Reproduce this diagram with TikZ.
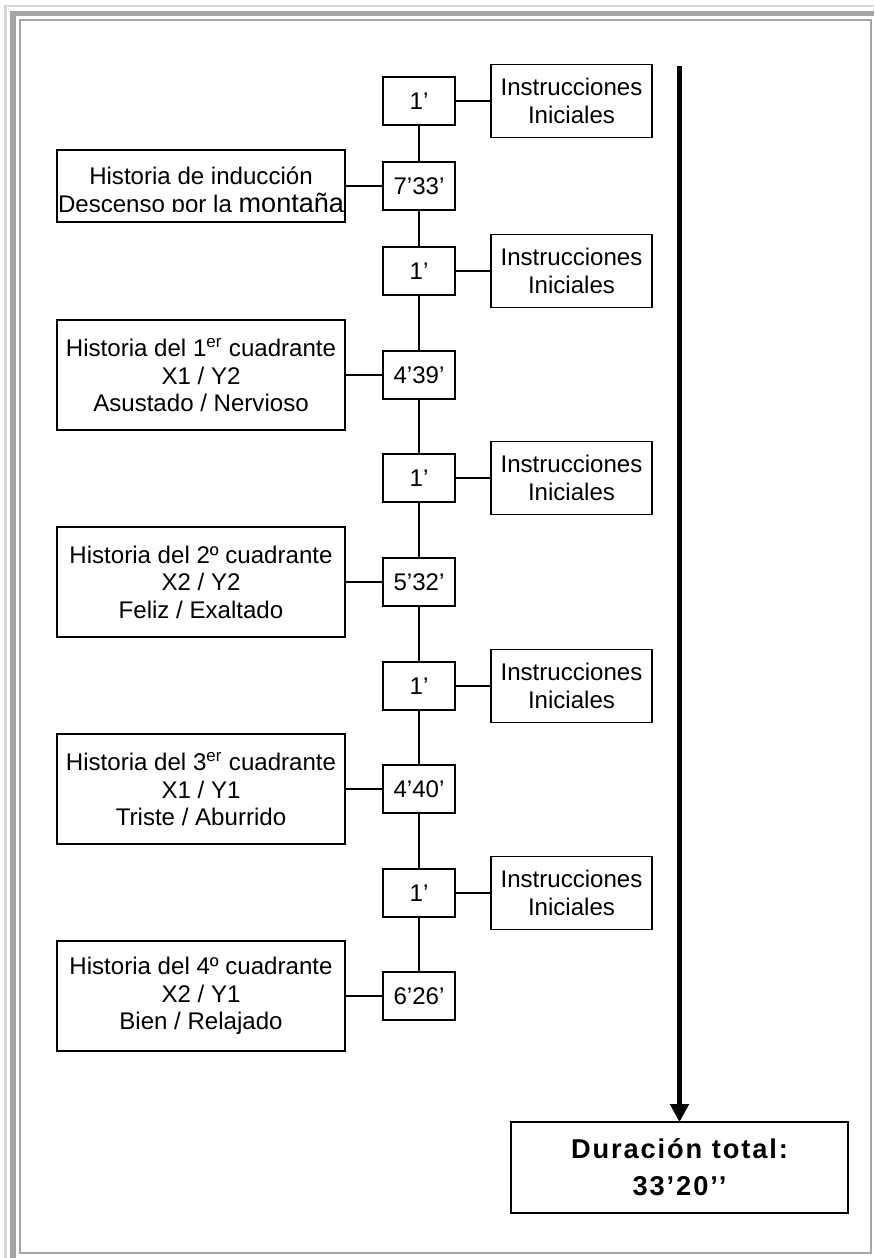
\documentclass[tikz,border=0pt]{standalone}
\usepackage{fontspec}
\setmainfont{Liberation Sans}
\usepackage{tikz}
\usetikzlibrary{arrows.meta}
\pgfdeclarelayer{nodelayer}
\pgfdeclarelayer{edgelayer}
\pgfsetlayers{edgelayer,nodelayer,main}
\definecolor{frame light}{HTML}{D6D6D6}
\definecolor{frame dark}{HTML}{A6A6A6}
\tikzstyle{time box}=[fill=white, draw=black, line width=0.85pt, shape=rectangle, inner sep=0pt, minimum width=1.44cm, minimum height=0.96cm, font=\fontsize{13.7pt}{15.6pt}\selectfont]
\tikzstyle{note box}=[fill=white, draw=black, line width=0.85pt, shape=rectangle, inner sep=0pt, minimum width=3.22cm, minimum height=1.46cm, align=center, font=\fontsize{13.7pt}{15.6pt}\selectfont]
\tikzstyle{story box}=[fill=white, draw=black, line width=0.85pt, shape=rectangle, inner sep=0pt, minimum width=5.76cm, minimum height=2.2cm, align=center, font=\fontsize{13.7pt}{15.6pt}\selectfont]
\tikzstyle{total box}=[fill=white, draw=black, line width=0.85pt, shape=rectangle, inner sep=0pt, minimum width=6.74cm, minimum height=1.82cm, align=center, font=\fontsize{15.5pt}{20.9pt}\selectfont\bfseries\addfontfeature{LetterSpace=7}]
\tikzstyle{none}=[fill=none, draw=none, inner sep=0pt, font=\fontsize{13.7pt}{15.6pt}\selectfont]
\tikzstyle{plain edge}=[draw=black, line width=1.2pt]
\tikzstyle{total edge}=[draw=black, line width=3.4pt, -{Triangle[length=0.36cm, width=0.36cm]}, shorten >=-0.5pt]

\begin{document}
\begin{tikzpicture}
	\useasboundingbox (0, 0) rectangle (17.48, -25.16);
	% page frame
	\draw [frame light, line width=1.14pt] (0.11, -25.16) -- (0.11, -0.11) -- (17.48, -0.11);
	\draw [frame dark, line width=2.85pt] (0.26, -25.16) -- (0.26, -0.26) -- (17.48, -0.26);
	\draw [frame dark, line width=1.42pt] (0.4, -0.4) rectangle (17.42, -25.06);
	\begin{pgfonlayer}{nodelayer}
		\node [style=time box] (0) at (8.38, -2.02) {1’};
		\node [style=time box] (1) at (8.38, -3.72) {7’33’};
		\node [style=time box] (2) at (8.38, -5.42) {1’};
		\node [style=time box] (3) at (8.38, -7.5) {4’39’};
		\node [style=time box] (4) at (8.38, -9.56) {1’};
		\node [style=time box] (5) at (8.38, -11.64) {5’32’};
		\node [style=time box] (6) at (8.38, -13.72) {1’};
		\node [style=time box] (7) at (8.38, -15.78) {4’40’};
		\node [style=time box] (8) at (8.38, -17.86) {1’};
		\node [style=time box] (9) at (8.38, -19.92) {6’26’};
		\node [style=note box] (10) at (11.43, -2.02) {Instrucciones\\Iniciales};
		\node [style=note box] (11) at (11.43, -5.42) {Instrucciones\\Iniciales};
		\node [style=note box] (12) at (11.43, -9.56) {Instrucciones\\Iniciales};
		\node [style=note box] (13) at (11.43, -13.72) {Instrucciones\\Iniciales};
		\node [style=note box] (14) at (11.43, -17.86) {Instrucciones\\Iniciales};
		\node [style=story box, minimum height=1.44cm] (15) at (4.02, -3.72) {};
		\begin{scope}
			\clip (1.14, -3.0) rectangle (6.9, -4.23);
			\node [style=none, anchor=base] (16) at (4.02, -3.68) {Historia de inducción};
			\node [style=none, anchor=base] (17) at (4.02, -4.25) {Descenso por la {\fontsize{15.4pt}{15.6pt}\selectfont montaña}};
		\end{scope}
		\node [style=story box] (18) at (4.02, -7.5) {Historia del 1\textsuperscript{er} cuadrante\\X1 / Y2\\Asustado / Nervioso};
		\node [style=story box] (19) at (4.02, -11.64) {Historia del 2º cuadrante\\X2 / Y2\\Feliz / Exaltado};
		\node [style=story box] (20) at (4.02, -15.78) {Historia del 3\textsuperscript{er} cuadrante\\X1 / Y1\\Triste / Aburrido};
		\node [style=story box] (21) at (4.02, -19.92) {Historia del 4º cuadrante\\X2 / Y1\\Bien / Relajado};
		\node [style=total box] (22) at (13.59, -23.35) {Duración total:\\33’20’’};
		\coordinate (23) at (13.59, -1.32);
	\end{pgfonlayer}
	\begin{pgfonlayer}{edgelayer}
		\draw [style=plain edge] (0) to (1);
		\draw [style=plain edge] (1) to (2);
		\draw [style=plain edge] (2) to (3);
		\draw [style=plain edge] (3) to (4);
		\draw [style=plain edge] (4) to (5);
		\draw [style=plain edge] (5) to (6);
		\draw [style=plain edge] (6) to (7);
		\draw [style=plain edge] (7) to (8);
		\draw [style=plain edge] (8) to (9);
		\draw [style=plain edge] (0) to (10);
		\draw [style=plain edge] (2) to (11);
		\draw [style=plain edge] (4) to (12);
		\draw [style=plain edge] (6) to (13);
		\draw [style=plain edge] (8) to (14);
		\draw [style=plain edge] (15) to (1);
		\draw [style=plain edge] (18) to (3);
		\draw [style=plain edge] (19) to (5);
		\draw [style=plain edge] (20) to (7);
		\draw [style=plain edge] (21) to (9);
		\draw [style=total edge] (23) to (22);
	\end{pgfonlayer}
\end{tikzpicture}
\end{document}
